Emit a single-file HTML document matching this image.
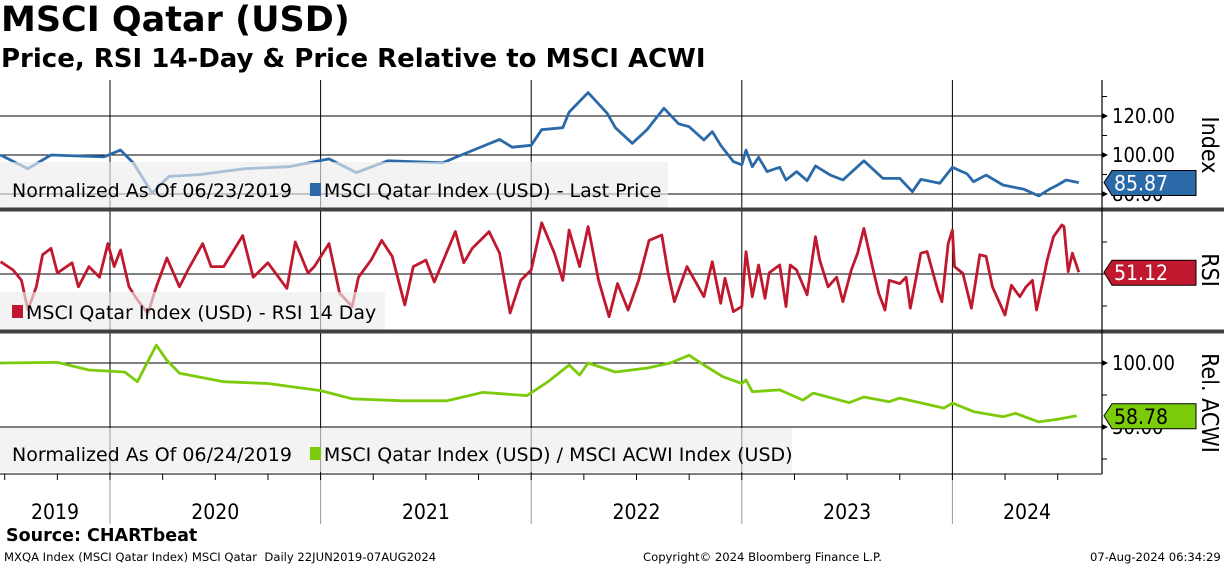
<!DOCTYPE html>
<html><head><meta charset="utf-8">
<style>
html,body{margin:0;padding:0;background:#fff;width:1224px;height:566px;overflow:hidden;font-family:"DejaVu Sans",sans-serif}
#t1{position:absolute;left:1px;top:-1px;font-size:35px;font-weight:bold;color:#000;font-family:"DejaVu Sans",sans-serif;line-height:42px}
#t2{position:absolute;left:1px;top:43px;font-size:26px;font-weight:bold;color:#000;font-family:"DejaVu Sans",sans-serif;line-height:32px}
#src{position:absolute;left:6px;top:526px;font-size:17.5px;font-weight:bold;font-family:"DejaVu Sans",sans-serif}
.ft{position:absolute;top:550px;font-size:11.6px;font-family:"DejaVu Sans",sans-serif}
svg{position:absolute;left:0;top:0}
</style></head><body>
<div id="t1">MSCI Qatar (USD)</div>
<div id="t2">Price, RSI 14-Day &amp; Price Relative to MSCI ACWI</div>
<svg id="chart" width="1224" height="566"></svg>
<div id="src">Source: CHARTbeat</div>
<div class="ft" style="left:4px">MXQA Index (MSCI Qatar Index) MSCI Qatar&nbsp; Daily 22JUN2019-07AUG2024</div>
<div class="ft" style="left:643px">Copyright© 2024 Bloomberg Finance L.P.</div>
<div class="ft" style="left:1090px">07-Aug-2024 06:34:29</div>
<script>
const priceT=[2019.48,2019.61,2019.72,2019.97,2020.05,2020.11,2020.20,2020.28,2020.43,2020.64,2020.85,2021.04,2021.17,2021.32,2021.58,2021.68,2021.85,2021.91,2022.00,2022.05,2022.15,2022.18,2022.27,2022.36,2022.40,2022.48,2022.55,2022.63,2022.70,2022.75,2022.82,2022.86,2022.90,2022.96,2023.00,2023.02,2023.05,2023.08,2023.12,2023.18,2023.21,2023.26,2023.31,2023.35,2023.42,2023.48,2023.58,2023.67,2023.75,2023.81,2023.85,2023.94,2024.00,2024.07,2024.10,2024.16,2024.24,2024.34,2024.41,2024.46,2024.50,2024.54,2024.60];
const priceV=[100,93,100,99,102.5,96,80.5,89,90,93,94,98,91,97,96,100.5,108,104,105,113,114,122,132,121.5,114,106,113,124,116,114.5,107.7,112,105,96.6,95,102.5,94,98.8,91.5,93.7,87.2,91.5,86.8,94.4,89.7,87.2,97,88,88,81.2,87.5,85.5,93.7,90.3,86.3,89.7,84.6,82.4,79,82.4,84.6,87.2,85.87];
const rsiT=[2019.48,2019.54,2019.58,2019.61,2019.65,2019.68,2019.72,2019.75,2019.82,2019.85,2019.90,2019.95,2019.99,2020.02,2020.05,2020.09,2020.13,2020.18,2020.22,2020.27,2020.33,2020.37,2020.44,2020.48,2020.54,2020.63,2020.68,2020.75,2020.84,2020.88,2020.94,2020.97,2021.04,2021.09,2021.15,2021.18,2021.24,2021.29,2021.34,2021.40,2021.44,2021.50,2021.54,2021.60,2021.64,2021.68,2021.72,2021.80,2021.85,2021.90,2021.95,2022.00,2022.05,2022.11,2022.15,2022.18,2022.23,2022.27,2022.32,2022.37,2022.41,2022.46,2022.51,2022.56,2022.62,2022.65,2022.68,2022.74,2022.82,2022.86,2022.90,2022.92,2022.96,2023.00,2023.02,2023.05,2023.08,2023.11,2023.13,2023.18,2023.21,2023.23,2023.26,2023.31,2023.35,2023.37,2023.41,2023.45,2023.48,2023.52,2023.55,2023.58,2023.62,2023.65,2023.68,2023.70,2023.75,2023.78,2023.80,2023.85,2023.88,2023.93,2023.95,2023.98,2024.00,2024.01,2024.05,2024.09,2024.13,2024.16,2024.19,2024.25,2024.28,2024.32,2024.35,2024.38,2024.40,2024.43,2024.45,2024.48,2024.52,2024.53,2024.55,2024.57,2024.60];
const rsiV=[57.7,52.5,46,27.5,42,62,66,50.6,57,42,54.6,48,69,54.6,65,42,33.8,25.4,42,60,42,52.5,69,54.6,54.6,74,48,57,41,70,50.6,54.6,69,38,29.6,48,58.7,71,61,30.6,54.6,58.7,45,64,76.5,57,66,76.5,63,25.6,46,52.5,82,63,46,77.5,54.6,79.6,46,23.3,44,27.5,46,71,74.4,50.6,32.7,54.6,35.8,57.7,31.7,47.3,26.5,29.6,64,35.8,55.6,34.8,50.8,55.6,29.6,55.6,52.5,37,73.3,58.7,42,48,32.7,52.5,63,78.5,54.6,38,27.5,46,44,48,28.6,63,64,40,32.7,69,77.5,54.6,50.4,28.6,62,61,42,24.4,43,35.8,42,46,27.5,46,58.7,73.3,80.6,79.6,51.5,63,51.12];
const relT=[2019.48,2019.75,2019.90,2020.07,2020.13,2020.22,2020.27,2020.33,2020.54,2020.75,2021.00,2021.15,2021.39,2021.60,2021.77,2021.98,2022.08,2022.18,2022.23,2022.27,2022.40,2022.55,2022.66,2022.75,2022.82,2022.91,2023.00,2023.02,2023.05,2023.18,2023.29,2023.34,2023.51,2023.58,2023.70,2023.75,2023.96,2024.00,2024.10,2024.24,2024.30,2024.41,2024.50,2024.59];
const relV=[100,100.5,94.5,93,85.4,114,102,92,85.4,84,78.4,72,70.5,70.5,77,74.5,85.4,98.4,90.6,100,93,96,100,106,98.4,89.3,84,86.7,77.6,79,71,76.5,69,73.4,69.8,72.6,64.8,68.7,62,58,60.7,54,56,58.78];
const yearLabels=["2019","2020","2021","2022","2023","2024"];
const priceTicks=[80,100,120];
const relTicks=[50,100];

const NS="http://www.w3.org/2000/svg";
const svg=document.getElementById('chart');
const FF='DejaVu Sans, sans-serif';
function mk(tag,attrs,parent){const e=document.createElementNS(NS,tag);for(const k in attrs)e.setAttribute(k,attrs[k]);(parent||svg).appendChild(e);return e;}
const AX=1102;
const xS=t=>110+(t-2020)*210.6;
const pY=v=>155-(v-100)*1.95;
const rY=v=>274-(v-50)*1.6;
const gY=v=>363-(v-100)*1.28;
const panels=[{top:80,bot:208},{top:212,bot:330},{top:334,bot:474}];
const defs=mk('defs',{});
panels.forEach((p,i)=>{const c=mk('clipPath',{id:'c'+i},defs);mk('rect',{x:0,y:p.top,width:AX,height:p.bot-p.top},c);});
for(let y=2020;y<=2024;y++){
  const l=mk('line',{x1:xS(y),x2:xS(y),y1:80,y2:474,stroke:'#000','stroke-width':1});
  
  
  const l2=mk('line',{x1:xS(y),x2:xS(y),y1:474,y2:524,stroke:'#999','stroke-width':1});
  
  
}
function hline(y){const l=mk('line',{x1:0,x2:AX,y1:y,y2:y,stroke:'#000','stroke-width':1});}
priceTicks.forEach(v=>hline(pY(v)));
hline(rY(50));
relTicks.forEach(v=>hline(gY(v)));
function series(T,V,yf,color,ci,name){
  let d='';T.forEach((t,i)=>{d+=(i?'L':'M')+xS(t).toFixed(1)+','+yf(V[i]).toFixed(1);});
  const p=mk('path',{d:d,fill:'none',stroke:color,'stroke-width':2.8,'stroke-linejoin':'round','clip-path':'url(#c'+ci+')'});
  
  
}
series(priceT,priceV,pY,'#2b6aa8',0,'price-line');
series(rsiT,rsiV,rY,'#c0182e',1,'rsi-line');
series(relT,relV,gY,'#7ccb0a',2,'relative-line');
function legend(x,y,w,h,text,color,prefix,name){
  const g=mk('g',{});
  
  
  mk('rect',{x:x,y:y,width:w,height:h,fill:'#ececec','fill-opacity':0.65,rx:2},g);
  let tx=x+12;
  if(prefix){const t=mk('text',{x:tx,y:y+h-11,'font-size':19,fill:'#000','font-family':FF},g);t.textContent=prefix;tx+=t.getComputedTextLength()+18;}
  mk('rect',{x:tx,y:y+h-25,width:11,height:13,fill:color},g);
  const t2=mk('text',{x:tx+14,y:y+h-11,'font-size':19,fill:'#000','font-family':FF},g);t2.textContent=text;
}
legend(0,162,668,46,'MSCI Qatar Index (USD) - Last Price','#2b6aa8','Normalized As Of 06/23/2019','price-legend');
legend(0,292,385,38,'MSCI Qatar Index (USD) - RSI 14 Day','#c0182e','','rsi-legend');
legend(0,428,792,44,'MSCI Qatar Index (USD) / MSCI ACWI Index (USD)','#7ccb0a','Normalized As Of 06/24/2019','relative-legend');
[209.5,331.5].forEach(y=>{const r=mk('rect',{x:0,y:y-2,width:1224,height:4,fill:'#404040'});});
mk('line',{x1:AX,x2:AX,y1:80,y2:474,stroke:'#000','stroke-width':1.2});
function tickLabel(y,txt){
  mk('path',{d:`M${AX},${y-3}L${AX+6},${y}L${AX},${y+3}Z`,fill:'#000'});
  const t=mk('text',{x:AX+10,y:y+7,'font-size':20,fill:'#000','font-family':'DejaVu Sans Condensed, DejaVu Sans, sans-serif'});
  t.textContent=txt;
  
  
}
priceTicks.forEach(v=>tickLabel(pY(v),v.toFixed(2)));
relTicks.forEach(v=>tickLabel(gY(v),v.toFixed(2)));
[90,110,130].forEach(v=>mk('line',{x1:AX,x2:AX+5,y1:pY(v),y2:pY(v),stroke:'#000'}));
[30,50,70].forEach(v=>mk('line',{x1:AX,x2:AX+5,y1:rY(v),y2:rY(v),stroke:'#000'}));
[25,75].forEach(v=>mk('line',{x1:AX,x2:AX+5,y1:gY(v),y2:gY(v),stroke:'#000'}));
function flag(y,txt,fill,tc,name){
  const g=mk('g',{});
  
  
  mk('path',{d:`M${AX+2},${y}L${AX+10},${y-12}L${AX+94},${y-12}L${AX+94},${y+13}L${AX+10},${y+13}Z`,fill:fill,stroke:'#000','stroke-width':1},g);
  const t=mk('text',{x:AX+12,y:y+8,'font-size':21,fill:tc,'font-family':'DejaVu Sans Condensed, DejaVu Sans, sans-serif'},g);t.textContent=txt;
}
flag(pY(priceV[priceV.length-1]),priceV[priceV.length-1].toFixed(2),'#2b6aa8','#fff','price-flag');
flag(rY(rsiV[rsiV.length-1]),rsiV[rsiV.length-1].toFixed(2),'#c0182e','#fff','rsi-flag');
flag(gY(relV[relV.length-1]),relV[relV.length-1].toFixed(2),'#7ccb0a','#000','relative-flag');
function ptitle(y,txt,name){const t=mk('text',{x:0,y:0,'font-size':23,fill:'#000','text-anchor':'middle',transform:`translate(1202,${y}) rotate(90)`,'font-family':'DejaVu Sans Condensed, DejaVu Sans, sans-serif'});t.textContent=txt;}
ptitle(145,'Index','price-axis-title');
ptitle(270,'RSI','rsi-axis-title');
ptitle(403,'Rel. ACWI','relative-axis-title');
mk('line',{x1:0,x2:AX,y1:474,y2:474,stroke:'#000','stroke-width':1});
for(let q=2019.5;q<=2024.51;q+=0.25){mk('line',{x1:xS(q),x2:xS(q),y1:474,y2:480,stroke:'#000'});}
yearLabels.forEach(y=>{
  const yr=+y;const a=Math.max(xS(yr),0),b=Math.min(xS(yr+1),AX);
  const mid=yr===2019?55:(yr===2024?1027:(a+b)/2);
  const t=mk('text',{x:mid,y:519,'font-size':21,'text-anchor':'middle',fill:'#000','font-family':'DejaVu Sans Condensed, DejaVu Sans, sans-serif'});
  t.textContent=y;
  
  
});
</script>
</body></html>
